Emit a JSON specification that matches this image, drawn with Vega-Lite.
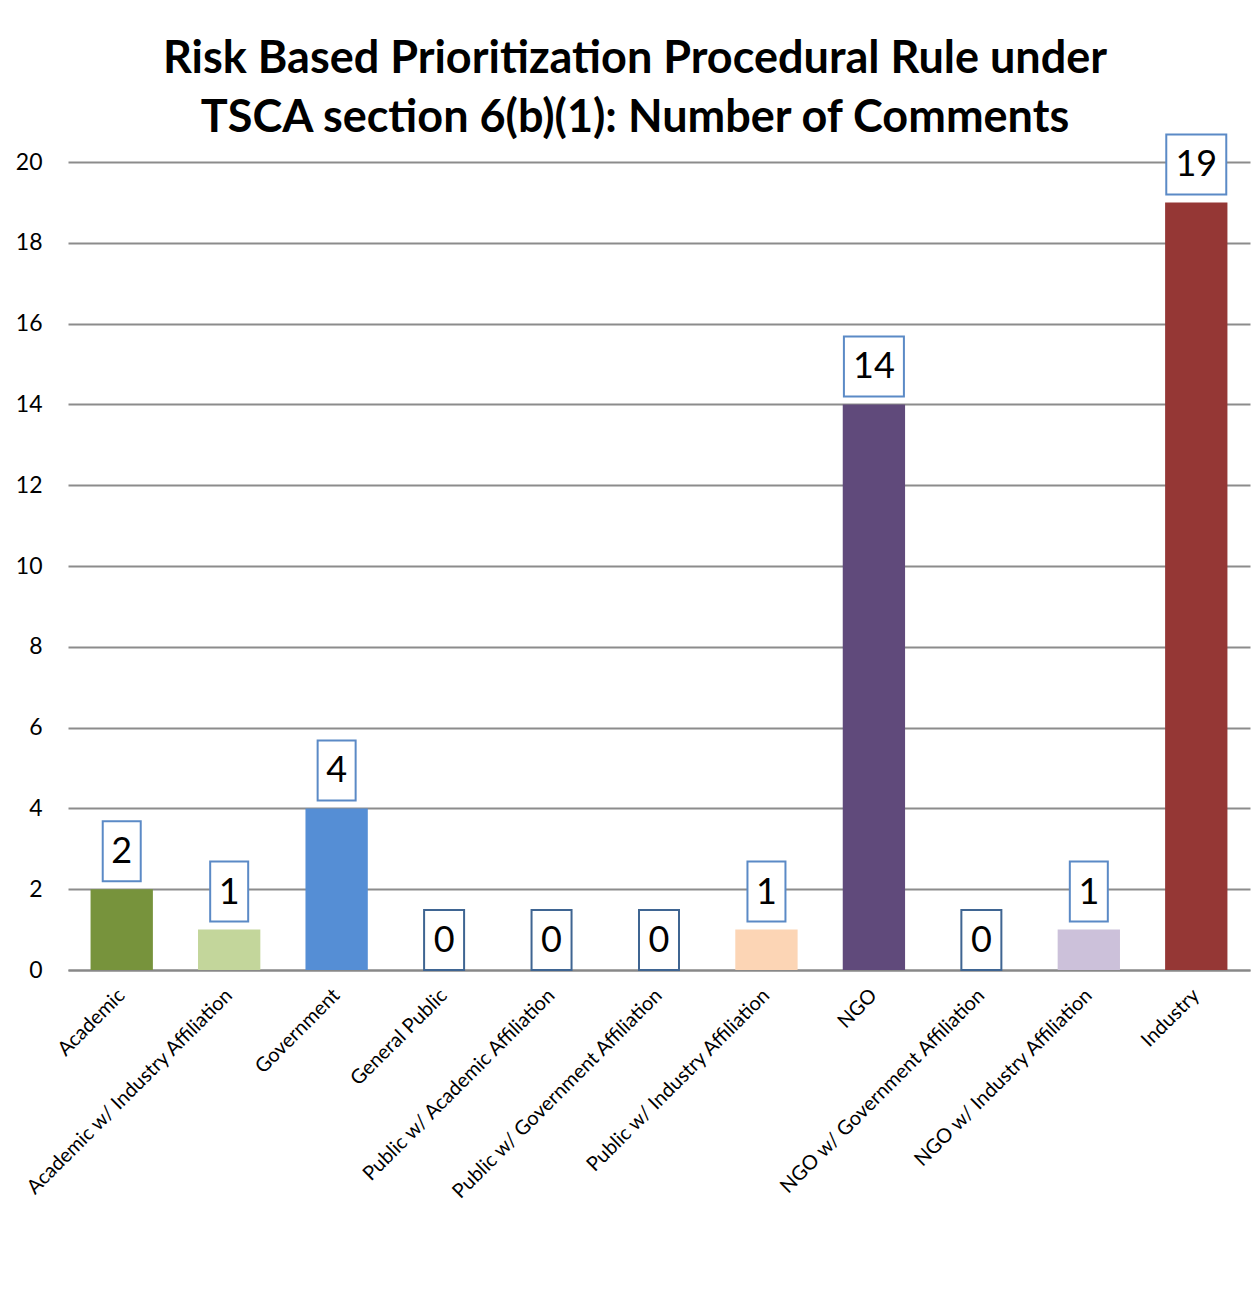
{
  "$schema": "https://vega.github.io/schema/vega-lite/v6.json",
  "autosize": {"type": "none"},
  "padding": {"left": 68, "top": 162, "right": 4, "bottom": 346},
  "width": 1182,
  "height": 808,
  "background": "white",
  "title": {
    "text": ["Risk Based Prioritization Procedural Rule under", "TSCA section 6(b)(1): Number of Comments"],
    "font": "Lato",
    "fontSize": 45,
    "fontWeight": "bold",
    "color": "#000000",
    "lineHeight": 59,
    "anchor": "middle",
    "dx": -24,
    "offset": -8
  },
  "config": {
    "view": {"stroke": null},
    "axis": {"labelFont": "Lato", "labelColor": "#000000"}
  },
  "data": {
    "values": [
      {"category": "Academic", "value": 2},
      {"category": "Academic w/ Industry Affiliation", "value": 1},
      {"category": "Government", "value": 4},
      {"category": "General  Public", "value": 0},
      {"category": "Public w/ Academic Affiliation", "value": 0},
      {"category": "Public w/ Government Affiliation", "value": 0},
      {"category": "Public w/ Industry Affiliation", "value": 1},
      {"category": "NGO", "value": 14},
      {"category": "NGO w/ Government Affiliation", "value": 0},
      {"category": "NGO w/ Industry Affiliation", "value": 1},
      {"category": "Industry", "value": 19}
    ]
  },
  "encoding": {
    "x": {
      "field": "category",
      "type": "nominal",
      "sort": null,
      "scale": {"paddingInner": 0.42, "paddingOuter": 0.21},
      "axis": {
        "title": null,
        "labelAngle": -45,
        "labelAlign": "right",
        "labelBaseline": "middle",
        "labelFontSize": 20,
        "labelPadding": 22,
        "labelLimit": 0,
        "labelOverlap": false,
        "ticks": false,
        "domainColor": "#888888",
        "domainWidth": 2,
        "grid": false
      }
    },
    "y": {
      "field": "value",
      "type": "quantitative",
      "scale": {"domain": [0, 20], "nice": false},
      "axis": {
        "title": null,
        "values": [0, 2, 4, 6, 8, 10, 12, 14, 16, 18, 20],
        "labelFontSize": 23,
        "labelPadding": 26,
        "ticks": false,
        "domain": false,
        "gridColor": "#8c8c8c",
        "gridWidth": 2
      }
    }
  },
  "layer": [
    {
      "mark": {"type": "bar"},
      "encoding": {
        "color": {
          "field": "category",
          "type": "nominal",
          "legend": null,
          "scale": {
            "domain": ["Academic", "Academic w/ Industry Affiliation", "Government", "General  Public", "Public w/ Academic Affiliation", "Public w/ Government Affiliation", "Public w/ Industry Affiliation", "NGO", "NGO w/ Government Affiliation", "NGO w/ Industry Affiliation", "Industry"],
            "range": ["#77933C", "#C3D69B", "#558ED5", "#1F497D", "#1F497D", "#1F497D", "#FCD5B5", "#604A7B", "#1F497D", "#CCC1DA", "#953735"]
          }
        }
      }
    },
    {
      "transform": [{"filter": "datum.value > 0"}],
      "mark": {"type": "bar", "fill": "white", "stroke": "#5B8AC6", "strokeWidth": 2, "yOffset": -68, "y2Offset": -8},
      "encoding": {
        "y2": {"field": "value"},
        "size": {"condition": {"test": "datum.value >= 10", "value": 60}, "value": 38}
      }
    },
    {
      "transform": [{"filter": "datum.value == 0"}],
      "mark": {"type": "bar", "fill": "white", "stroke": "#3F6592", "strokeWidth": 2, "yOffset": -60, "y2Offset": 0},
      "encoding": {
        "y2": {"field": "value"},
        "size": {"value": 40}
      }
    },
    {
      "transform": [{"filter": "datum.value > 0"}],
      "mark": {"type": "text", "font": "Lato", "fontSize": 36, "color": "#000000", "baseline": "middle", "align": "center", "yOffset": -37},
      "encoding": {"text": {"field": "value", "type": "quantitative"}}
    },
    {
      "transform": [{"filter": "datum.value == 0"}],
      "mark": {"type": "text", "font": "Lato", "fontSize": 36, "color": "#000000", "baseline": "middle", "align": "center", "yOffset": -29},
      "encoding": {"text": {"field": "value", "type": "quantitative"}}
    }
  ]
}
